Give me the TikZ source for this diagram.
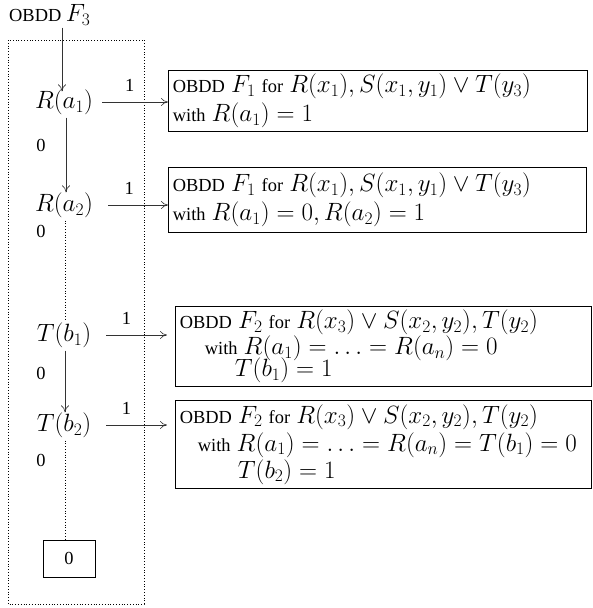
\RequirePackage{fix-cm}
\documentclass[tikz,border=0pt]{standalone}
\usepackage{fontspec}
\setmainfont{Liberation Serif}
\usetikzlibrary{arrows.meta}
\setlength{\lineskiplimit}{-100pt}
\setlength{\lineskip}{0pt}
\newcommand\mth[1]{{\fontsize{25}{29}\selectfont$#1$}}
\begin{document}
\begin{tikzpicture}[x=1pt,y=-1pt,
  every node/.style={font=\fontsize{18.4}{29}\selectfont},
  var/.style={inner xsep=0pt, inner ysep=3pt},
  lbl/.style={inner sep=0pt},
  arr/.style={-{To[length=7pt,width=8pt]}, line width=0.6pt, draw=black!80},
  dline/.style={dotted, line width=0.8pt},
  box/.style={draw, line width=0.8pt, anchor=north west, align=left,
    inner xsep=4.5pt, inner ysep=0pt}]
\path[use as bounding box] (0,0) rectangle (592,608);
% dotted frame
\draw[dline] (8,40) rectangle (144,604);
% title
\node[lbl, anchor=west] (f3) at (9,15) {OBDD \mth{F_3}};
% variable nodes
\node[var] (ra1) at (64,102) {\mth{R(a_1)}};
\node[var] (ra2) at (64,205) {\mth{R(a_2)}};
\node[var] (tb1) at (64,335) {\mth{T(b_1)}};
\node[var] (tb2) at (64,425) {\mth{T(b_2)}};
\node[draw, line width=0.8pt, minimum width=52pt, minimum height=37pt, inner sep=0pt] (zero) at (69,558.5) {0};
% zero labels
\node[lbl] (z1) at (41,145) {0};
\node[lbl] (z2) at (41,231) {0};
\node[lbl] (z3) at (41,373) {0};
\node[lbl] (z4) at (41,460) {0};
% boxes
\node[box, text width=410pt, minimum height=61pt] (b1) at (168,70)
  {OBDD \mth{F_1} for \mth{R(x_1), S(x_1,y_1)\vee T(y_3)}\\ with \mth{R(a_1)=1}};
\node[box, text width=409pt, minimum height=65pt] (b2) at (168,167)
  {OBDD \mth{F_1} for \mth{R(x_1), S(x_1,y_1)\vee T(y_3)}\\ with \mth{R(a_1)=0, R(a_2)=1}};
\node[box, text width=407pt, minimum height=80pt] (b3) at (175,306)
  {OBDD \mth{F_2} for \mth{R(x_3)\vee S(x_2,y_2), T(y_2)}\\[-3pt]
   \hspace*{25pt}with \mth{R(a_1)=\ldots=R(a_n)=0}\\[-7pt]
   \hspace*{55pt}\mth{T(b_1)=1}};
\node[box, text width=407pt, minimum height=88pt] (b4) at (175,400)
  {OBDD \mth{F_2} for \mth{R(x_3)\vee S(x_2,y_2), T(y_2)}\\[-1pt]
   \hspace*{18pt}with \mth{R(a_1)=\ldots=R(a_n)=T(b_1)=0}\\[-2pt]
   \hspace*{58pt}\mth{T(b_2)=1}};
% vertical connectors
\draw[arr] (f3.south -| 62,0) ++(0,2) coordinate (fs) (fs) -- ([yshift=-5pt]ra1.north -| fs);
\draw[arr] ([xshift=2pt]ra1.south) -- ([xshift=2pt,yshift=-3pt]ra2.north);
\draw[dline] ([xshift=1pt]ra2.south) -- ([xshift=1pt]tb1.north);
\draw[arr] ([xshift=1pt]tb1.south) -- ([xshift=1pt,yshift=-3pt]tb2.north);
\draw[dline] ([xshift=1pt]tb2.south) -- ([xshift=1pt]tb2.south |- zero.north);
% horizontal connectors
\draw[arr] ([xshift=9pt]ra1.east) -- (b1.west |- ra1.east) node[lbl, pos=0.42, above=10pt] (l1) {1};
\draw[arr] ([xshift=15pt]ra2.east) -- (b2.west |- ra2.east) node[lbl, pos=0.35, above=10pt] (l2) {1};
\draw[arr] ([xshift=15pt]tb1.east) -- ([xshift=-8pt]b3.west |- tb1.east) node[lbl, pos=0.33, above=10pt] (l3) {1};
\draw[arr] ([xshift=15pt]tb2.east) -- ([xshift=-8pt]b4.west |- tb2.east) node[lbl, pos=0.33, above=10pt] (l4) {1};
\end{tikzpicture}
\end{document}
